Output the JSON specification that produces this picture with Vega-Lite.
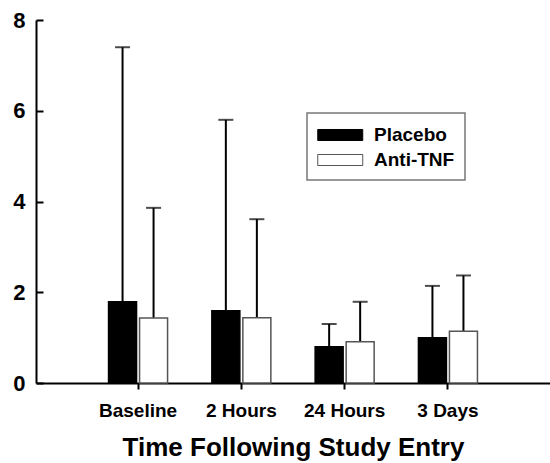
{
  "$schema": "https://vega.github.io/schema/vega-lite/v6.json",
  "width": 514,
  "height": 363,
  "autosize": {"type": "none"},
  "padding": {"left": 36, "top": 20, "right": 0, "bottom": 80},
  "background": "white",
  "config": {
    "view": {"stroke": null},
    "font": "Liberation Sans",
    "axis": {"grid": false, "domainColor": "black", "domainWidth": 2, "tickColor": "black", "tickWidth": 2,
             "labelFont": "Liberation Sans", "labelFontWeight": "bold", "labelColor": "black",
             "titleFont": "Liberation Sans", "titleFontWeight": "bold", "titleColor": "black"}
  },
  "data": {
    "values": [
      {"time": "Baseline", "group": "Placebo", "mean": 1.79, "upper": 7.40},
      {"time": "Baseline", "group": "Anti-TNF", "mean": 1.43, "upper": 3.86},
      {"time": "2 Hours", "group": "Placebo", "mean": 1.59, "upper": 5.80},
      {"time": "2 Hours", "group": "Anti-TNF", "mean": 1.44, "upper": 3.61},
      {"time": "24 Hours", "group": "Placebo", "mean": 0.80, "upper": 1.30},
      {"time": "24 Hours", "group": "Anti-TNF", "mean": 0.91, "upper": 1.79},
      {"time": "3 Days", "group": "Placebo", "mean": 1.00, "upper": 2.14},
      {"time": "3 Days", "group": "Anti-TNF", "mean": 1.14, "upper": 2.37}
    ]
  },
  "encoding": {
    "x": {
      "field": "time", "type": "nominal",
      "sort": ["Baseline", "2 Hours", "24 Hours", "3 Days"],
      "scale": {"paddingInner": 0, "paddingOuter": 0.488},
      "axis": {"title": "Time Following Study Entry", "labelAngle": 0, "labelFontSize": 19, "labelPadding": 12,
               "tickSize": 6, "titleFontSize": 26, "titlePadding": 14}
    },
    "xOffset": {
      "field": "group", "type": "nominal",
      "sort": ["Placebo", "Anti-TNF"],
      "scale": {"paddingInner": 0.097, "paddingOuter": 0.714}
    }
  },
  "layer": [
    {
      "mark": {"type": "rule", "strokeWidth": 2, "color": "black"},
      "encoding": {
        "y": {
          "field": "mean", "type": "quantitative",
          "scale": {"domain": [0, 8]},
          "axis": {"title": null, "values": [0, 2, 4, 6, 8], "labelFontSize": 22, "labelPadding": 18,
                   "tickSize": -7, "labelFlush": false}
        },
        "y2": {"field": "upper"}
      }
    },
    {
      "mark": {"type": "tick", "thickness": 2, "size": 15, "color": "black"},
      "encoding": {
        "y": {"field": "upper", "type": "quantitative"}
      }
    },
    {
      "mark": {"type": "bar", "strokeWidth": 1.5},
      "encoding": {
        "y": {"field": "mean", "type": "quantitative"},
        "fill": {
          "field": "group", "type": "nominal",
          "scale": {"domain": ["Placebo", "Anti-TNF"], "range": ["black", "white"]},
          "legend": {
            "title": null, "orient": "none", "legendX": 271, "legendY": 93,
            "strokeColor": "#777", "padding": 10,
            "symbolType": "M-1,-0.49H3V0.49H-1Z", "symbolSize": 506,
            "symbolStrokeColor": "#444", "symbolStrokeWidth": 1,
            "labelFont": "Liberation Sans", "labelFontSize": 19, "labelFontWeight": "bold", "labelColor": "black",
            "labelOffset": 33, "rowPadding": 3,
            "encode": {"legend": {"update": {"strokeWidth": {"value": 1.5}}}}
          }
        },
        "stroke": {
          "field": "group", "type": "nominal",
          "scale": {"domain": ["Placebo", "Anti-TNF"], "range": ["black", "#555"]},
          "legend": null
        }
      }
    }
  ]
}
